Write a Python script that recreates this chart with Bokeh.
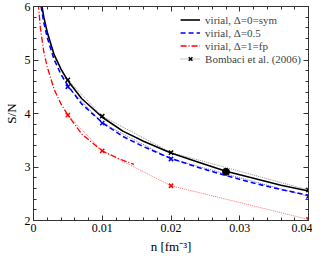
import numpy as np
from bokeh.plotting import figure
from bokeh.models import (Range1d, LinearAxis, FixedTicker, CustomJSTickFormatter,
                          Legend, LegendItem)
from bokeh.embed import file_html
from bokeh.resources import INLINE

# virial, Delta=0 (symmetric)
n_sym = [0.0011, 0.0015, 0.002, 0.003, 0.004, 0.005, 0.007, 0.01, 0.013, 0.016,
         0.02, 0.024, 0.028, 0.032, 0.036, 0.04]
s_sym = [6.10, 5.80, 5.52, 5.10, 4.83, 4.61, 4.28, 3.93, 3.67, 3.48,
         3.26, 3.09, 2.92, 2.79, 2.66, 2.55]
# virial, Delta=0.5
n_half = [0.0011, 0.0015, 0.002, 0.003, 0.004, 0.005, 0.007, 0.01, 0.013, 0.016,
          0.02, 0.024, 0.028, 0.032, 0.036, 0.04]
s_half = [6.00, 5.70, 5.42, 5.01, 4.73, 4.52, 4.18, 3.83, 3.57, 3.38,
          3.16, 2.99, 2.84, 2.70, 2.58, 2.47]
# virial, Delta=1 (fully polarized)
n_fp = [0.0007, 0.001, 0.0015, 0.002, 0.003, 0.004, 0.005, 0.007, 0.01, 0.0125, 0.0146]
s_fp = [6.05, 5.60, 5.15, 4.87, 4.45, 4.18, 3.97, 3.62, 3.30, 3.15, 3.05]

# Bombaci et al. (2006)
n_bomb = [0.005, 0.01, 0.02, 0.04]
s_bomb_sym = [4.63, 3.95, 3.27, 2.57]
s_bomb_half = [4.50, 3.82, 3.15, 2.45]
s_bomb_fp = [3.97, 3.30, 2.65, 2.02]

# highlighted point
n_dot = [0.028]
s_dot = [2.91]

FONT = "Liberation Serif"

p = figure(width=312, height=256, output_backend="svg", toolbar_location=None,
           x_range=Range1d(0, 0.04), y_range=Range1d(2, 6),
           x_axis_location=None, y_axis_location=None,
           min_border_left=25, min_border_right=4, min_border_top=6, min_border_bottom=0)
p.xgrid.visible = False
p.ygrid.visible = False
p.outline_line_color = "#333333"
p.background_fill_color = "white"

xt = FixedTicker(ticks=[0, 0.01, 0.02, 0.03, 0.04],
                 minor_ticks=list(np.round(np.arange(0, 0.0401, 0.002), 4)))
yt = FixedTicker(ticks=[2, 3, 4, 5, 6],
                 minor_ticks=list(np.round(np.arange(2, 6.01, 0.2), 2)))

blank = CustomJSTickFormatter(code="return '';")

bottom = LinearAxis(ticker=xt,
                    formatter=CustomJSTickFormatter(code="return tick == 0 ? '0' : tick.toFixed(2);"),
                    axis_label="n [fm⁻³]")
left = LinearAxis(ticker=yt, axis_label="S/N")
top = LinearAxis(ticker=xt, formatter=blank, major_label_standoff=0)
right = LinearAxis(ticker=yt, formatter=blank, major_label_standoff=0)
p.add_layout(bottom, "below")
p.add_layout(left, "left")
p.add_layout(top, "above")
p.add_layout(right, "right")

for ax in [bottom, left, top, right]:
    ax.major_tick_in = 5
    ax.major_tick_out = 0
    ax.minor_tick_in = 3
    ax.minor_tick_out = 0
    ax.axis_line_color = "#333333"
    ax.major_tick_line_color = "#333333"
    ax.minor_tick_line_color = "#333333"
    ax.major_label_text_font = FONT
    ax.major_label_text_font_size = "12px"
    ax.major_label_text_color = "black"
    ax.axis_label_text_font = FONT
    ax.axis_label_text_font_style = "normal"
    ax.axis_label_text_font_size = "13px"
    ax.axis_label_text_color = "black"

bottom.major_label_standoff = 3
left.major_label_standoff = 3
bottom.axis_label_standoff = 4
left.axis_label_standoff = 3

# Bombaci dotted guide lines
r_bl = p.line(n_bomb, s_bomb_sym, line_color="#909090", line_width=1, line_dash="1 1")
p.line(n_bomb, s_bomb_half, line_color="#6a6aff", line_width=1, line_dash="1 1")
p.line(n_bomb, s_bomb_fp, line_color="#ff7070", line_width=1, line_dash="1 1")

# virial curves
r_sym = p.line(n_sym, s_sym, line_color="black", line_width=1.6)
r_half = p.line(n_half, s_half, line_color="#0000ff", line_width=1.6, line_dash="5 3")
r_fp = p.line(n_fp, s_fp, line_color="#ff0000", line_width=1.3, line_dash="6 2 1 2")

# Bombaci markers
r_bx = p.scatter(n_bomb, s_bomb_sym, marker="x", size=6, line_color="black", line_width=1.5)
p.scatter(n_bomb, s_bomb_half, marker="x", size=6, line_color="#0000ff", line_width=1.5)
p.scatter(n_bomb, s_bomb_fp, marker="x", size=6, line_color="#ff0000", line_width=1.5)

p.scatter(n_dot, s_dot, marker="circle", size=7, fill_color="black", line_color="black")

legend = Legend(items=[
    LegendItem(label="virial, Δ=0=sym", renderers=[r_sym]),
    LegendItem(label="virial, Δ=0.5", renderers=[r_half]),
    LegendItem(label="virial, Δ=1=fp", renderers=[r_fp]),
    LegendItem(label="Bombaci et al. (2006)", renderers=[r_bl, r_bx]),
], location="top_right")
legend.background_fill_alpha = 0
legend.border_line_color = None
legend.label_text_font = FONT
legend.label_text_font_size = "11px"
legend.glyph_width = 20
legend.glyph_height = 13
legend.label_height = 13
legend.spacing = 0
legend.padding = 3
legend.margin = 7
legend.label_standoff = 5
p.add_layout(legend, "center")

open("out.html", "w").write(file_html(p, INLINE))
